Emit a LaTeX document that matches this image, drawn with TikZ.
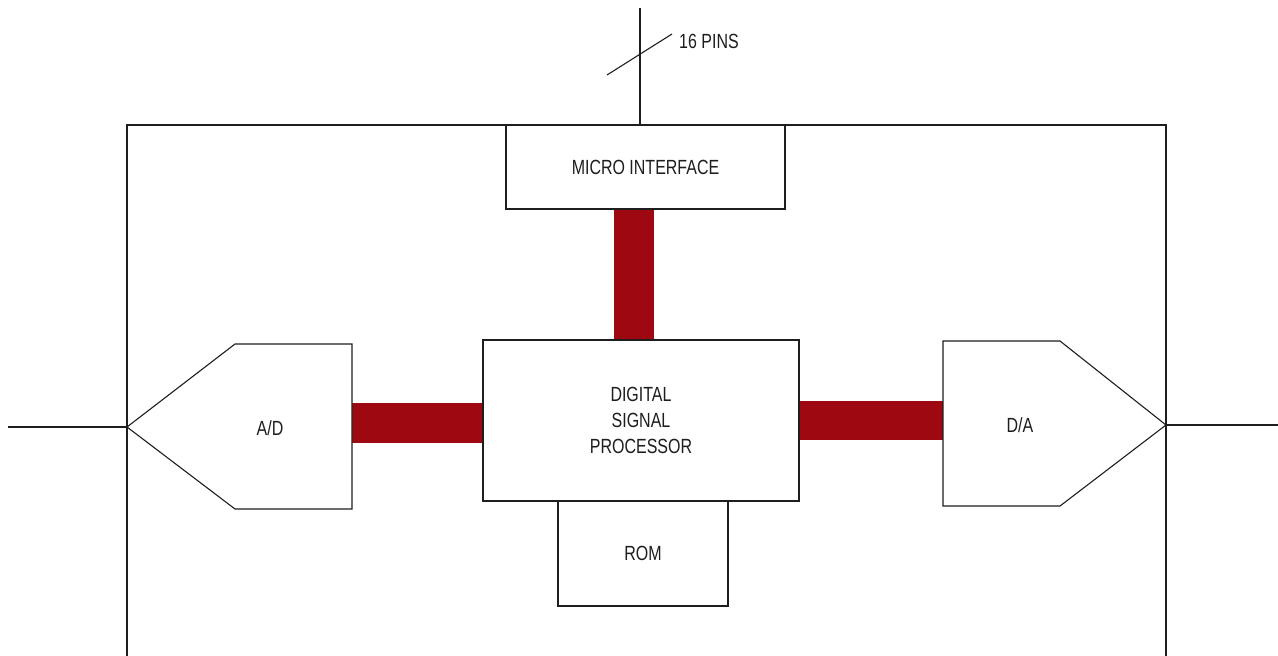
\documentclass[tikz,border=0pt]{standalone}
\usepackage{fontspec}
\setmainfont{Liberation Sans}[FakeStretch=0.78]
\definecolor{busred}{HTML}{9E0811}
\definecolor{ink}{HTML}{1E1E1E}
\tikzset{
  wire/.style={draw=ink, line width=1.1pt},
  block/.style={wire, fill=white, rectangle, inner sep=0pt, font=\fontsize{20.5}{26}\selectfont, text=ink, align=center},
  bus/.style={fill=busred},
  lbl/.style={font=\fontsize{20.5}{26}\selectfont, text=ink, inner sep=0pt, align=center}
}
\begin{document}
\begin{tikzpicture}[x=1pt, y=-1pt]
\useasboundingbox (0,0) rectangle (1278,656);

% data buses
\fill[bus] (614,209) rectangle (654,340);
\fill[bus] (352,403) rectangle (483,443);
\fill[bus] (799,401) rectangle (943,440);

% chip outline (continues past the lower edge)
\draw[wire] (127,656) -- (127,125) -- (1166,125) -- (1166,656);

% blocks
\node[block, minimum width=279pt, minimum height=84pt] (micro) at (645.5,167) {MICRO INTERFACE};
\node[block, minimum width=170pt, minimum height=106pt] (rom) at (643,553) {ROM};
\node[block, minimum width=316pt, minimum height=161pt] (dsp) at (641,420.5) {DIGITAL\\SIGNAL\\PROCESSOR};

% A/D converter
\coordinate (adtip) at (127,427);
\draw[wire, fill=white] (adtip) -- (235,344) -- (352,344) -- (352,509) -- (235,509) -- cycle;
\node[lbl] (ad) at (270,428) {A/D};

% D/A converter
\coordinate (datip) at (1166,425);
\draw[wire, fill=white] (943,341) -- (1060,341) -- (datip) -- (1060,506) -- (943,506) -- cycle;
\node[lbl] (da) at (1020,425) {D/A};

% external connections
\coordinate (pintop) at (640,8);
\coordinate (inend) at (8,427);
\coordinate (outend) at (1278,425);
\draw[wire] (pintop) -- (micro.north -| pintop);
\draw[wire] (inend) -- (adtip);
\draw[wire] (datip) -- (outend);

% bus width marker
\coordinate (slashA) at (607,75);
\coordinate (slashB) at (672,34);
\draw[wire] (slashA) -- (slashB);
\node[lbl, anchor=west] (pins) at (679,41) {16 PINS};
\end{tikzpicture}
\end{document}
